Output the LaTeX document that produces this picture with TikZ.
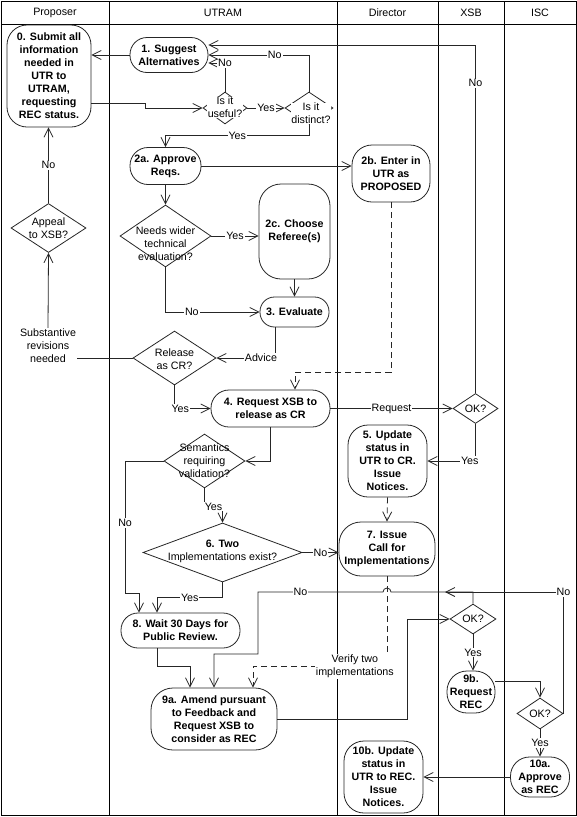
\documentclass[tikz,border=0pt]{standalone}
\usepackage{fontspec}
\setmainfont{Liberation Sans}
\usetikzlibrary{arrows.meta,shapes.geometric,calc}
\begin{document}
\begin{tikzpicture}[x=1pt,y=-1pt,
  lane/.style={draw=black, line width=0.9pt},
  hdr/.style={font=\fontsize{10.7}{13}\selectfont, inner sep=0pt},
  box/.style n args={3}{draw=black!85, line width=0.8pt, fill=white, rounded corners=#3,
    minimum width=#1, minimum height=#2, inner sep=0pt, align=center,
    font=\bfseries\fontsize{10.7}{13}\selectfont},
  dia/.style n args={2}{diamond, draw=black!85, line width=0.8pt, fill=white,
    minimum width=#1, minimum height=#2, inner sep=0pt},
  dtext/.style={align=center, inner sep=0pt, font=\fontsize{10.7}{13}\selectfont},
  dtextw/.style={dtext, fill=white, inner sep=0.5pt},
  lbl/.style={fill=white, inner sep=1pt, align=center, font=\fontsize{10.7}{13}\selectfont},
  plain/.style={align=center, inner sep=1pt, font=\fontsize{10.7}{13}\selectfont},
  conn/.style={draw=black!85, line width=0.8pt},
  arr/.style={conn, -{Straight Barb[length=9pt,width=9pt]}},
  dline/.style={dash pattern=on 6pt off 4pt}
]
\useasboundingbox (0,0) rectangle (577,817);

% swimlanes
\draw[lane] (1,1) rectangle (576,815);
\draw[lane] (1,24) -- (576,24);
\foreach \xx in {109,337,438,504} \draw[lane] (\xx,1) -- (\xx,815);
\node[hdr] (hP) at (55,12.5) {Proposer};
\node[hdr] (hU) at (223,12.5) {UTRAM};
\node[hdr] (hD) at (387.5,12.5) {Director};
\node[hdr] (hX) at (471,12.5) {XSB};
\node[hdr] (hI) at (540,12.5) {ISC};

% nodes
\node[box={84pt}{102pt}{20pt}] (n0) at (49,76) {0. Submit all\\information\\needed in\\UTR to\\UTRAM,\\requesting\\REC status.};
\node[box={78pt}{35pt}{17pt}] (n1) at (169,55) {1. Suggest\\Alternatives};
\node[dia={44pt}{32pt}] (useful) at (225,108) {};
\node[dtextw] (usefulT) at (225,107.5) {Is it\\useful?};
\node[dia={48pt}{32pt}] (distinct) at (309,108) {};
\node[dtextw] (distinctT) at (311,113.5) {Is it\\distinct?};
\node[box={71pt}{37pt}{18pt}] (n2a) at (165.5,166) {2a. Approve\\Reqs.};
\node[box={78pt}{57pt}{20pt}] (n2b) at (391,173.5) {2b. Enter in\\UTR as\\PROPOSED};
\node[dia={91pt}{62pt}] (need) at (165.5,236) {};
\node[dtext] (needT) at (165.5,244) {Needs wider\\technical\\evaluation?};
\node[box={71pt}{95pt}{22pt}] (n2c) at (294.5,231.5) {2c. Choose\\Referee(s)};
\node[box={69pt}{30pt}{14.5pt}] (n3) at (294.5,312) {3. Evaluate};
\node[dia={83pt}{54pt}] (release) at (174.5,358) {};
\node[dtext] (releaseT) at (174.5,359.5) {Release\\as CR?};
\node[dia={75pt}{49pt}] (appeal) at (48.5,228) {};
\node[dtext] (appealT) at (48.5,228) {Appeal\\to XSB?};
\node[plain] (subst) at (48,346) {Substantive\\revisions\\needed};
\node[box={119pt}{37pt}{18pt}] (n4) at (270.5,408.5) {4. Request XSB to\\release as CR};
\node[dia={45pt}{30pt}] (ok1) at (475.5,408.5) {};
\node[dtext] (ok1T) at (475.5,408.5) {OK?};
\node[box={79pt}{72pt}{20pt}] (n5) at (387.5,461) {5. Update\\status in\\UTR to CR.\\Issue\\Notices.};
\node[dia={81pt}{54pt}] (sem) at (204.5,461) {};
\node[dtext] (semT) at (204.5,461) {Semantics\\requiring\\validation?};
\node[dia={159pt}{59pt}] (two) at (222.5,552.5) {};
\node[dtext] (twoT) at (222.5,551.5) {\textbf{6. Two}\\Implementations exist?};
\node[box={96pt}{54pt}{22pt}] (n7) at (387,549) {7. Issue\\Call for\\Implementations};
\node[box={119pt}{35pt}{17pt}] (n8) at (180.5,630.5) {8. Wait 30 Days for\\Public Review.};
\node[box={126pt}{62pt}{22pt}] (n9a) at (214,719) {9a. Amend pursuant\\to Feedback and\\Request XSB to\\consider as REC};
\node[dia={46pt}{30pt}] (ok2) at (473,619) {};
\node[dtext] (ok2T) at (473,619) {OK?};
\node[box={48pt}{42pt}{20pt}] (n9b) at (471,692) {9b.\\Request\\REC};
\node[dia={46pt}{31pt}] (ok3) at (540,713.5) {};
\node[dtext] (ok3T) at (540,713.5) {OK?};
\node[box={59pt}{40pt}{19pt}] (n10a) at (540,777) {10a.\\Approve\\as REC};
\node[box={79pt}{72pt}{20pt}] (n10b) at (383.5,777) {10b. Update\\status in\\UTR to REC.\\Issue\\Notices.};

% connectors
\draw[arr] (n1.west) -- (n1.west -| n0.east);
\draw[arr] ([yshift=-27pt]n0.east) -- ++(54,0) -- ++(0,5) -- (useful.west);
\draw[arr] (useful.east) -- node[lbl]{Yes} (distinct.west);
\draw[arr] (useful.north) |- node[lbl,pos=0.5]{No} ([yshift=-8pt]n1.east);
\draw[arr] (distinct.north) |- node[lbl,pos=0.67]{No} (n1.east);
\draw[arr] (ok1.north) |- node[lbl,pos=0.445]{No} ([yshift=10pt]n1.east);
\draw[arr] (distinct.south) -- ++(0,11) -| node[lbl,pos=0.25]{Yes} (n2a.north);
\draw[arr] (n2a.east) -- (n2a.east -| n2b.west);
\draw[arr] (n2a.south) -- (need.north);
\draw[arr] (need.east) -- node[lbl]{Yes} (need.east -| n2c.west);
\draw[arr] (n2c.south) -- (n3.north);
\draw[arr] (need.south) |- node[lbl,pos=0.64]{No} (n3.west);
\draw[arr] ([xshift=-19.5pt]n3.south) |- node[lbl,pos=0.62]{Advice} (release.east);
\draw[conn] (release.west) -- (release.west -| subst.east);
\draw[arr] (subst.north) -- (appeal.south);
\draw[arr] (appeal.north) -- node[lbl]{No} (appeal.north |- n0.south);
\draw[arr] (release.south) |- node[lbl,pos=0.58]{Yes} (n4.west);
\draw[arr,dline] (n2b.south) -- ++(0,170) -| ([xshift=24.5pt]n4.north);
\draw[arr] (n4.east) -- node[lbl]{Request} (ok1.west);
\draw[arr] (ok1.south) |- node[lbl,pos=0.56]{Yes} (n5.east);
\draw[arr,dline] (n5.south) -- (n7.north);
\draw[arr] (n4.south) |- (sem.east);
\draw[arr] (sem.west) -- ++(-38.5,0) -- ++(0,132) node[lbl,pos=0.47]{No} -| ([xshift=-41.5pt]n8.north);
\draw[arr] (sem.south) |- node[lbl,pos=0.75]{Yes} ([yshift=16pt]two.north) -- (two.north);
\draw[arr] (two.east) -- node[lbl]{No} (two.east -| n7.west);
\draw[arr] (two.south) -- ++(0,15) -| node[lbl,pos=0.25]{Yes} ([xshift=-23.5pt]n8.north);
\draw[arr] ([xshift=-23.5pt]n8.south) -- ++(0,18) -| ([xshift=-24pt]n9a.north);
\coordinate (noend) at (445,592);
\draw[arr] (ok3.east) |- node[lbl,pos=0.5]{No} (noend);
\draw[arr] (ok2.north) |- (noend) -- (391,592) arc[start angle=0,end angle=180,radius=4pt] -- (258,592) node[lbl,pos=0.66]{No} -- (258,654) -| (n9a.north);
\draw[arr,dline] (n7.south) -- ++(0,90) -| node[lbl,pos=0.12]{Verify two\\implementations} ([xshift=39pt]n9a.north);
\draw[arr] (n9a.east) -- ++(130,0) |- (ok2.west);
\draw[arr] (ok2.south) -- node[lbl]{Yes} (ok2.south |- n9b.north);
\draw[arr] ([yshift=11pt]n9b.east) -| (ok3.north);
\draw[arr] (ok3.south) -- node[lbl]{Yes} (n10a.north);
\draw[arr] (n10a.west) -- (n10a.west -| n10b.east);
\end{tikzpicture}
\end{document}
